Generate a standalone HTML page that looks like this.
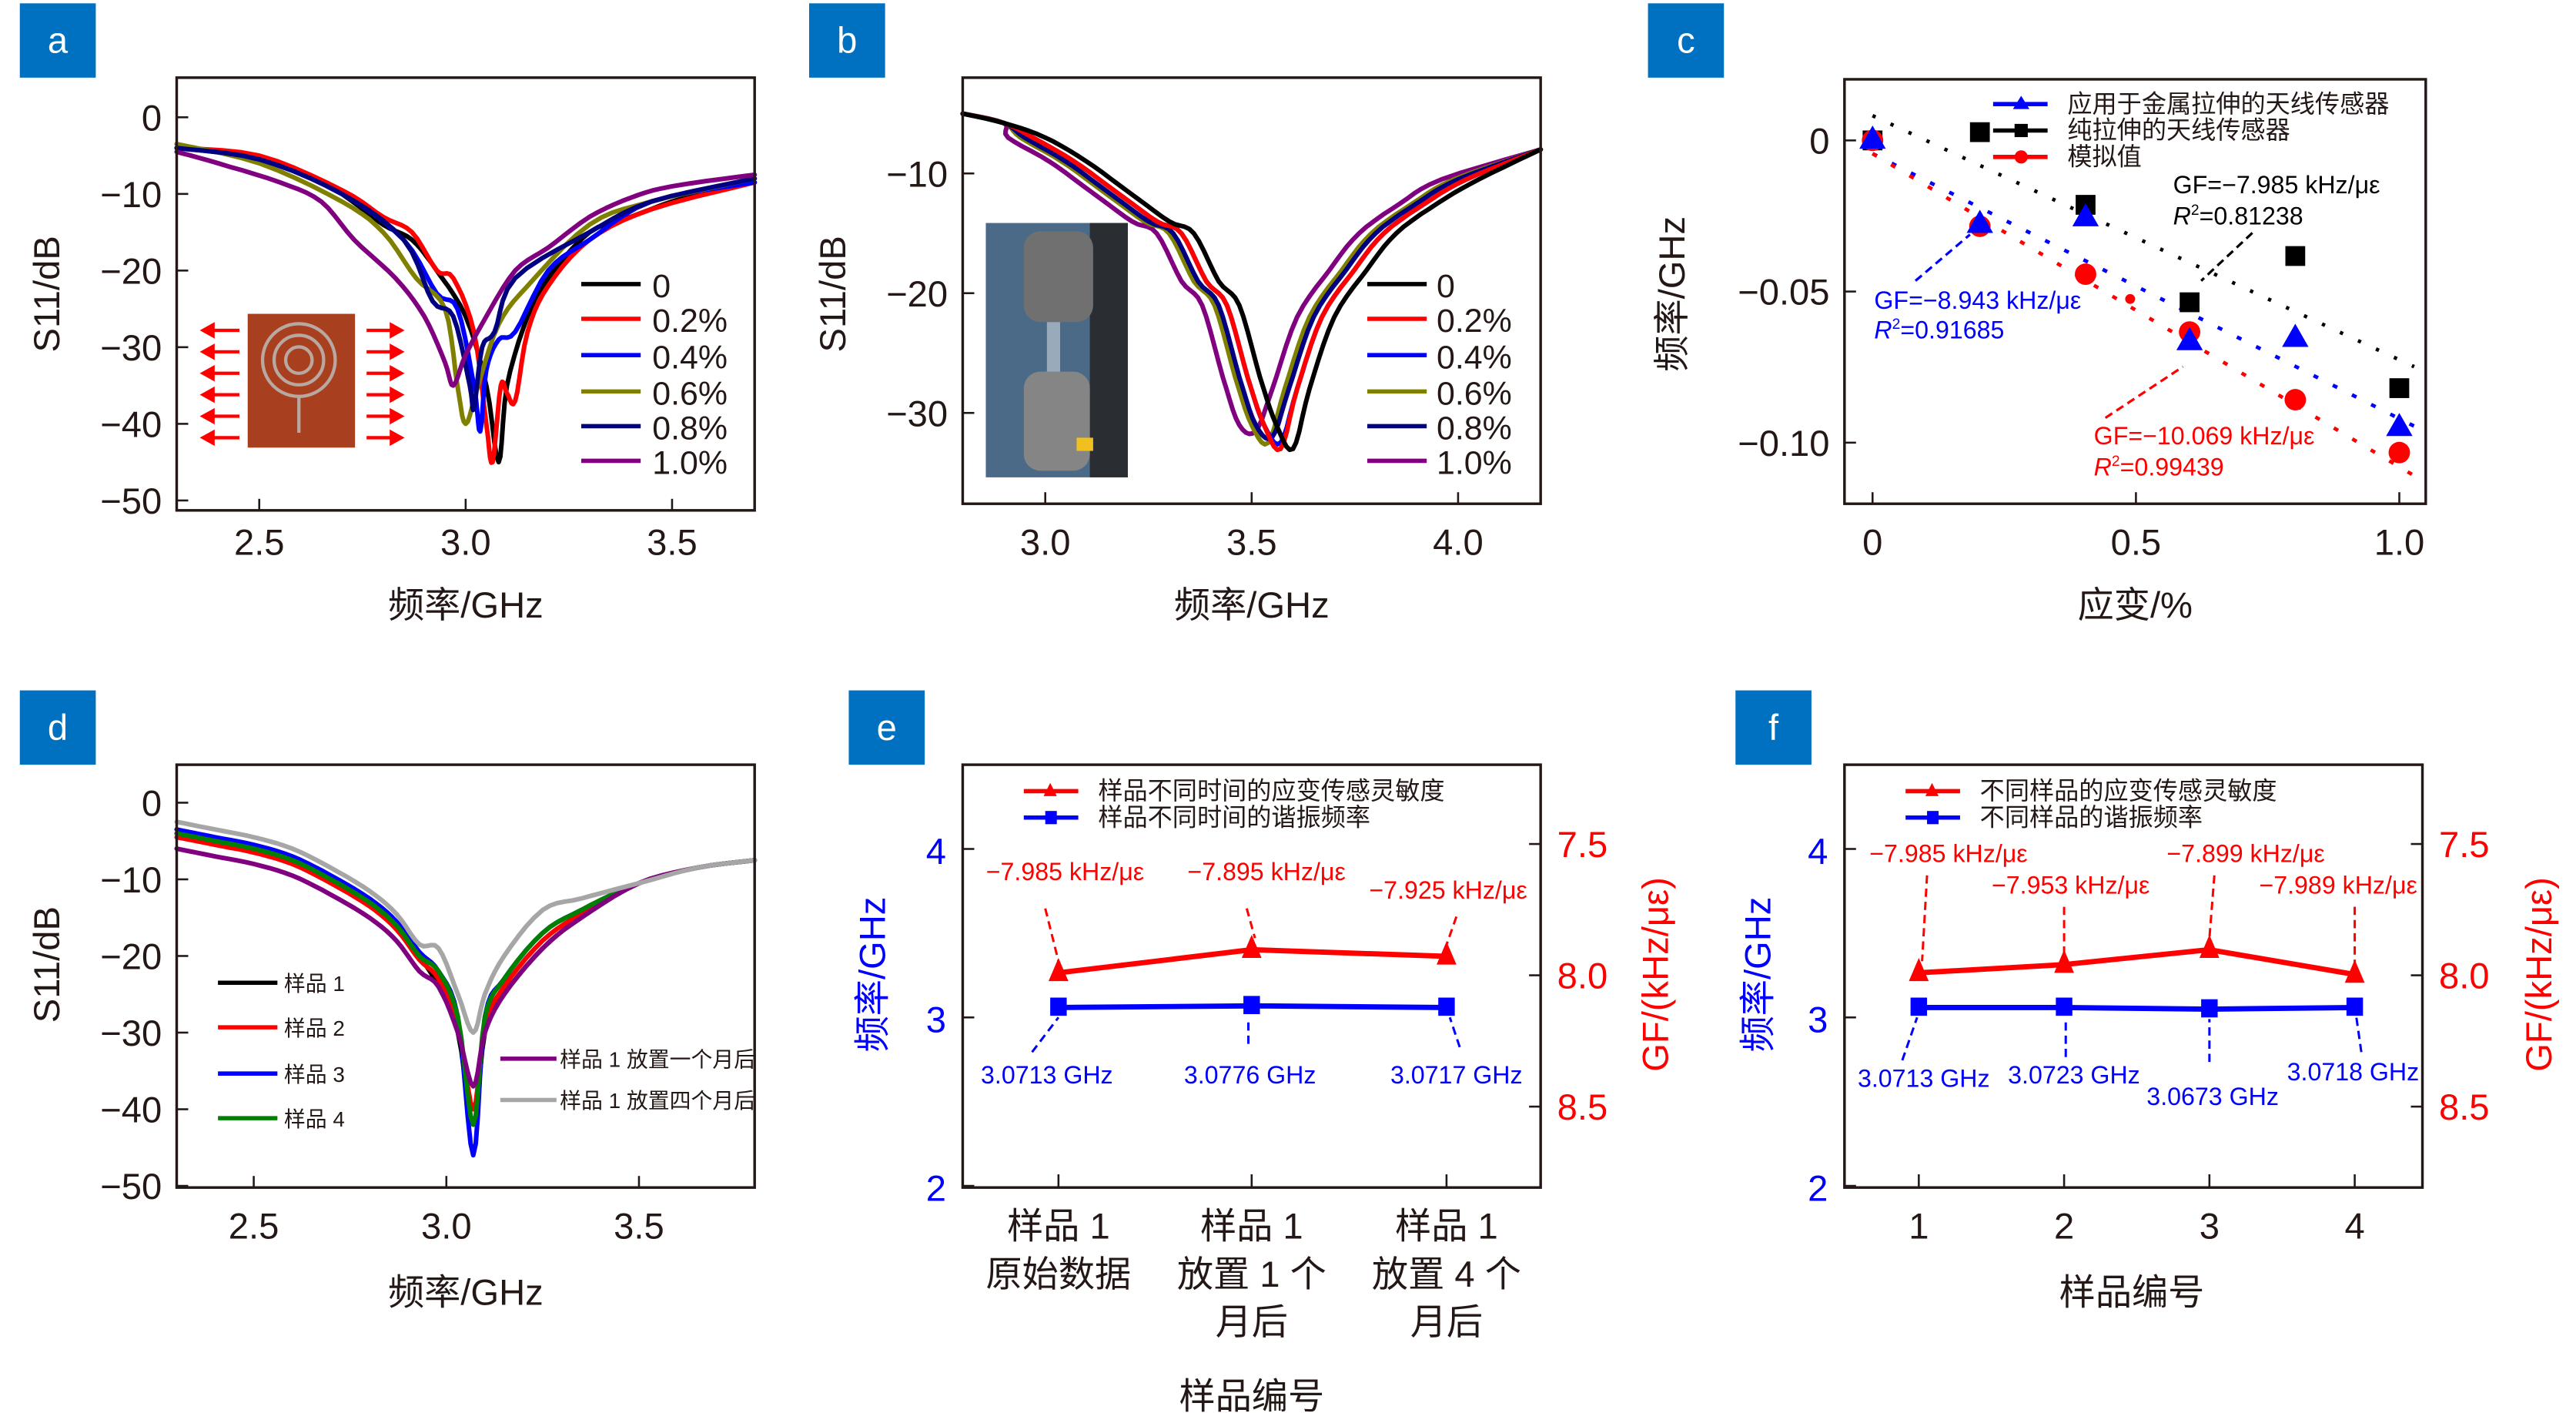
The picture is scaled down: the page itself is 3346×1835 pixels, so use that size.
<!DOCTYPE html>
<html><head><meta charset="utf-8">
<style>
html,body{margin:0;padding:0;background:#fff;}
svg{display:block;}
text{font-family:"Liberation Sans","Noto Sans CJK SC",sans-serif;}
</style></head>
<body>
<svg id="s" xmlns="http://www.w3.org/2000/svg" width="3346" height="1835" viewBox="0 0 1560 855.5">
<rect width="1560" height="856" fill="#fff"/>
</svg>
<script>
const S=document.getElementById('s');const NS='http://www.w3.org/2000/svg';
function el(t,a,txt){const e=document.createElementNS(NS,t);for(const k in a)e.setAttribute(k,a[k]);if(txt!==undefined)e.textContent=txt;S.appendChild(e);return e;}
function T(x,y,s,size,fill,anchor,extra){const a={x:x,y:y,'font-size':size,fill:fill||'#231815','text-anchor':anchor||'middle'};if(extra)Object.assign(a,extra);return el('text',a,s);}
function L(x1,y1,x2,y2,c,w,d){const a={x1,y1,x2,y2,stroke:c,'stroke-width':w||1.2};if(d)a['stroke-dasharray']=d;return el('line',a);}
function box(x,y,w,h){el('rect',{x,y,width:w,height:h,fill:'none',stroke:'#231815','stroke-width':1.6});}
function lab(x,y,s){el('rect',{x,y,width:46,height:45,fill:'#0070c0'});T(x+23,y+30,s,22,'#fff');}
function poly(pts,c,w,dash){const a={points:pts.map(p=>p[0].toFixed(1)+','+p[1].toFixed(1)).join(' '),fill:'none',stroke:c,'stroke-width':w||2.8,'stroke-linejoin':'round','stroke-linecap':'round'};if(dash)a['stroke-dasharray']=dash;return el('polyline',a);}
function smooth(d){
 const out=[];for(let i=0;i<d.length-1;i++){const p0=d[Math.max(i-1,0)],p1=d[i],p2=d[i+1],p3=d[Math.min(i+2,d.length-1)];for(let t=0;t<1;t+=0.2){const t2=t*t,t3=t2*t;out.push([0.5*((2*p1[0])+(-p0[0]+p2[0])*t+(2*p0[0]-5*p1[0]+4*p2[0]-p3[0])*t2+(-p0[0]+3*p1[0]-3*p2[0]+p3[0])*t3),0.5*((2*p1[1])+(-p0[1]+p2[1])*t+(2*p0[1]-5*p1[1]+4*p2[1]-p3[1])*t2+(-p0[1]+3*p1[1]-3*p2[1]+p3[1])*t3)]);}}out.push(d[d.length-1]);return out;}
const cols=['#000','#ff0000','#0000ff','#808000','#000080','#800080'];
const labs=['0','0.2%','0.4%','0.6%','0.8%','1.0%'];

// ---------- Panel a ----------
lab(12,2,'a');
(function(){const X=f=>107+(f-2.3)*250,Y=d=>71-d*4.64;
const data=[
[[2.3,-4],[2.4,-4.5],[2.5,-5.5],[2.6,-7],[2.7,-10],[2.8,-14],[2.87,-16],[2.93,-20],[3.0,-26],[3.05,-35],[3.08,-45],[3.1,-35],[3.15,-26],[3.2,-21],[3.3,-15],[3.4,-13],[3.5,-11],[3.6,-9.5],[3.7,-8.5]],
[[2.3,-4],[2.5,-5],[2.7,-9.5],[2.8,-13],[2.87,-15],[2.93,-20],[2.97,-21],[3.02,-28],[3.05,-40],[3.065,-45],[3.085,-35],[3.1,-36],[3.12,-37],[3.15,-28],[3.2,-22],[3.3,-16],[3.45,-12],[3.7,-8.5]],
[[2.3,-4],[2.5,-5.5],[2.7,-10],[2.85,-16],[2.93,-23],[2.98,-25],[3.02,-35],[3.035,-41],[3.05,-33],[3.08,-29],[3.12,-28],[3.2,-20],[3.3,-16],[3.45,-11],[3.7,-8.5]],
[[2.3,-3.5],[2.5,-6],[2.7,-11],[2.8,-15],[2.88,-21],[2.95,-25],[2.98,-35],[3.0,-40],[3.03,-35],[3.08,-27],[3.15,-22],[3.3,-14],[3.45,-11],[3.7,-8]],
[[2.3,-4],[2.5,-5.5],[2.7,-10],[2.85,-16],[2.92,-24],[2.97,-26],[3.01,-35],[3.02,-38],[3.04,-30],[3.07,-28],[3.12,-21],[3.3,-15],[3.45,-11],[3.7,-8]],
[[2.3,-4.5],[2.4,-6],[2.55,-8.5],[2.65,-11],[2.73,-16],[2.83,-21],[2.9,-26],[2.95,-32],[2.97,-35],[3.0,-31],[3.05,-26],[3.12,-20],[3.2,-17],[3.3,-13],[3.4,-10.5],[3.5,-9],[3.7,-7.5]]];
data.forEach((d,i)=>poly(smooth(d.map(p=>[X(p[0]),Y(p[1])])),cols[i]));
box(107,47,350,262);
[0,-10,-20,-30,-40,-50].forEach(v=>{L(107,Y(v),114,Y(v),'#231815');T(98,Y(v)+8,v==0?'0':'−'+(-v),22,null,'end');});
[2.5,3.0,3.5].forEach(v=>{L(X(v),309,X(v),302,'#231815');T(X(v),336,v.toFixed(1),22);});
T(282,374,'频率/GHz',22);
el('text',{transform:'translate(36,178) rotate(-90)','font-size':22,fill:'#231815','text-anchor':'middle'},'S11/dB');
const ly=[172,193,215,237,258,279];
ly.forEach((y,i)=>{L(352,y,388,y,cols[i],2.6);T(395,y+8,labs[i],20,null,'start');});
el('rect',{x:150,y:190,width:65,height:81,fill:'#a8401f'});
[0,1,2].forEach(k=>el('circle',{cx:181,cy:218,r:8+k*7,fill:'none',stroke:'#b8a8a0','stroke-width':2}));
L(181,240,181,262,'#b8a8a0',2);
for(let k=0;k<6;k++){const y=200+k*13;
 L(125,y,145,y,'#f00',2);el('polygon',{points:`121,${y} 130,${y-5} 130,${y+5}`,fill:'#f00'});
 L(222,y,240,y,'#f00',2);el('polygon',{points:`245,${y} 236,${y-5} 236,${y+5}`,fill:'#f00'});}
})();

// ---------- Panel b ----------
lab(490,2,'b');
(function(){const X=f=>583+(f-2.8)*250,Y=d=>105+(-10-d)*7.25;
const base=[[2.8,-5],[2.9,-5.8],[3.0,-7],[3.1,-9],[3.2,-11.5],[3.3,-14],[3.36,-15],[3.42,-19],[3.47,-21],[3.52,-27],[3.56,-31],[3.6,-33],[3.64,-28],[3.7,-22],[3.78,-18],[3.85,-15],[3.95,-12.5],[4.05,-10.5],[4.2,-8]];
const sh=[0,-0.03,-0.03,-0.06,-0.05,-0.09];const dep=[-33,-33,-32.5,-32.5,-32,-31.5];
const order=[5,3,4,2,1,0];
order.forEach(i=>{const d=base.map(p=>{let f=p[0],v=p[1];if(f>2.9&&f<4.15)f+=sh[i];if(p[0]==3.6)v=dep[i];return [X(Math.min(Math.max(f,2.8),4.2)),Y(v)];});poly(smooth(d),cols[i]);});
box(583,47,350,258);
[-10,-20,-30].forEach(v=>{L(583,Y(v),590,Y(v),'#231815');T(574,Y(v)+8,'−'+(-v),22,null,'end');});
[3.0,3.5,4.0].forEach(v=>{L(X(v),305,X(v),298,'#231815');T(X(v),336,v.toFixed(1),22);});
T(758,374,'频率/GHz',22);
el('text',{transform:'translate(512,178) rotate(-90)','font-size':22,fill:'#231815','text-anchor':'middle'},'S11/dB');
const ly=[172,193,215,237,258,279];
ly.forEach((y,i)=>{L(828,y,864,y,cols[i],2.6);T(870,y+8,labs[i],20,null,'start');});
el('rect',{x:597,y:135,width:86,height:154,fill:'#4a6a88'});
el('rect',{x:660,y:135,width:23,height:154,fill:'#2a2e33'});
el('rect',{x:620,y:140,width:42,height:55,rx:10,fill:'#707070'});
el('rect',{x:620,y:225,width:40,height:60,rx:10,fill:'#858585'});
el('rect',{x:634,y:195,width:8,height:30,fill:'#9ab'});
el('rect',{x:652,y:265,width:10,height:8,fill:'#f0c020'});
})();

// ---------- Panel c ----------
lab(998,2,'c');
(function(){
box(1117,48,352,257);
const X=v=>1134+v*319,Y=v=>85-v*1830;
[0,-0.05,-0.10].forEach((v,k)=>{const y=Y(v);L(1117,y,1124,y,'#231815');T(1108,y+8,['0','−0.05','−0.10'][k],22,null,'end');});
[[0,'0'],[0.5,'0.5'],[1,'1.0']].forEach(a=>{L(X(a[0]),305,X(a[0]),298,'#231815');T(X(a[0]),336,a[1],22);});
T(1293,374,'应变/%',22);
el('text',{transform:'translate(1020,178) rotate(-90)','font-size':22,fill:'#231815','text-anchor':'middle'},'频率/GHz');
L(1134,70,1462,222,'#000',2.2,'2 10');
L(1134,93,1462,258,'#00f',2.2,'3 10');
L(1134,93,1462,288,'#f00',2.2,'3 10');
const bs=[[1134,85],[1199,80],[1263,124],[1326,183],[1390,155],[1453,235]];
const bt=[[1134,85],[1199,136],[1263,132],[1326,207],[1390,205],[1453,259]];
const rc=[[1134,85],[1199,137],[1263,166],[1326,201],[1390,242],[1453,274]];
bs.forEach(p=>el('rect',{x:p[0]-6,y:p[1]-6,width:12,height:12,fill:'#000'}));
rc.forEach(p=>el('circle',{cx:p[0],cy:p[1],r:6.5,fill:'#f00'}));
bt.forEach(p=>el('polygon',{points:`${p[0]},${p[1]-9} ${p[0]-8},${p[1]+5} ${p[0]+8},${p[1]+5}`,fill:'#00f'}));
el('circle',{cx:1290,cy:181,r:3,fill:'#f00'});
[['#00f','tri'],['#000','sq'],['#f00','ci']].forEach((a,k)=>{const y=63+k*16;L(1207,y,1240,y,a[0],2.6);
 if(a[1]=='tri')el('polygon',{points:`1224,${y-5} 1219,${y+3} 1229,${y+3}`,fill:a[0]});
 if(a[1]=='sq')el('rect',{x:1220,y:y-4,width:8,height:8,fill:a[0]});
 if(a[1]=='ci')el('circle',{cx:1224,cy:y,r:4,fill:a[0]});});
T(1252,68,'应用于金属拉伸的天线传感器',15,null,'start');
T(1252,84,'纯拉伸的天线传感器',15,null,'start');
T(1252,100,'模拟值',15,null,'start');
T(1316,117,'GF=−7.985 kHz/με',15,'#000','start');
el('text',{x:1316,y:136,'font-size':15,fill:'#000'},'').innerHTML='<tspan font-style="italic">R</tspan><tspan font-size="9" dy="-6">2</tspan><tspan dy="6">=0.81238</tspan>';
L(1364,141,1333,170,'#000',1.5,'5 3');
T(1135,187,'GF=−8.943 kHz/με',15,'#00f','start');
el('text',{x:1135,y:205,'font-size':15,fill:'#00f'},'').innerHTML='<tspan font-style="italic">R</tspan><tspan font-size="9" dy="-6">2</tspan><tspan dy="6">=0.91685</tspan>';
L(1160,170,1193,142,'#00f',1.5,'5 3');
T(1268,269,'GF=−10.069 kHz/με',15,'#f00','start');
el('text',{x:1268,y:288,'font-size':15,fill:'#f00'},'').innerHTML='<tspan font-style="italic">R</tspan><tspan font-size="9" dy="-6">2</tspan><tspan dy="6">=0.99439</tspan>';
L(1275,253,1322,222,'#f00',1.5,'5 3');
})();

// ---------- Panel d ----------
lab(12,418,'d');
(function(){const X=f=>107+(f-2.3)*233.3,Y=d=>486-d*4.64;
function mk(D,e,g){return [[2.3,-4+e],[2.4,-5+e],[2.5,-6+e],[2.6,-7.5+e],[2.7,-10+e],[2.8,-13+e],[2.87,-16+e],[2.93,-20+e],[2.98,-24+g],[3.03,-30+g],[3.07,D],[3.1,-30+g],[3.15,-25+g],[3.25,-19+g],[3.35,-15+g/2],[3.5,-10.5],[3.65,-8.5],[3.8,-7.5]];}
const ser=[['#000',mk(-42,0,0)],['#f00',mk(-40,-0.5,1)],['#00f',mk(-46,0.5,2)],['#008000',mk(-42,0,2)],['#800080',mk(-37,-2,0)],['#a6a6a6',mk(-30,1.5,5)]];
ser.forEach(s=>poly(smooth(s[1].map(p=>[X(p[0]),Y(p[1])])),s[0]));
box(107,463,350,256);
[0,-10,-20,-30,-40,-50].forEach(v=>{L(107,Y(v),114,Y(v),'#231815');T(98,Y(v)+8,v==0?'0':'−'+(-v),22,null,'end');});
[2.5,3.0,3.5].forEach(v=>{L(X(v),719,X(v),712,'#231815');T(X(v),750,v.toFixed(1),22);});
T(282,790,'频率/GHz',22);
el('text',{transform:'translate(36,584) rotate(-90)','font-size':22,fill:'#231815','text-anchor':'middle'},'S11/dB');
[['#000','样品 1',595],['#f00','样品 2',622],['#00f','样品 3',650],['#008000','样品 4',677]].forEach(a=>{L(132,a[2],168,a[2],a[0],2.6);T(172,a[2]+5,a[1],13,null,'start');});
L(303,641,337,641,'#800080',2.6);T(339,646,'样品 1 放置一个月后',13,null,'start');
L(303,666,337,666,'#a6a6a6',2.6);T(339,671,'样品 1 放置四个月后',13,null,'start');
})();

// ---------- Panel e / f ----------
function dual(bx,cats,red,blue,legend,ann,xlabels,lx,rtx){
 box(bx,463,350,256);
 const YL=v=>718-(v-2)*102,YR=v=>511+(v-7.5)*159;
 [2,3,4].forEach(v=>{L(bx,YL(v),bx+7,YL(v),'#231815');T(bx-10,YL(v)+9,String(v),22,'#00f','end');});
 [7.5,8.0,8.5].forEach(v=>{L(bx+350,YR(v),bx+343,YR(v),'#231815');T(bx+360,YR(v)+8,v.toFixed(1),22,'#f00','start');});
 cats.forEach(c=>L(c,719,c,711,'#231815'));
 poly(red.map((y,i)=>[cats[i],y]),'#f00',3.2);
 poly(blue.map((y,i)=>[cats[i],y]),'#00f',3.2);
 red.forEach((y,i)=>el('polygon',{points:`${cats[i]},${y-9} ${cats[i]-6},${y+5} ${cats[i]+6},${y+5}`,fill:'#f00'}));
 blue.forEach((y,i)=>el('rect',{x:cats[i]-5,y:y-6,width:10,height:11,fill:'#00f'}));
 L(bx+37,479,bx+70,479,'#f00',2.6);el('polygon',{points:`${bx+53},474 ${bx+49},482 ${bx+57},482`,fill:'#f00'});
 L(bx+37,495,bx+70,495,'#00f',2.6);el('rect',{x:bx+50,y:491,width:7,height:8,fill:'#00f'});
 T(bx+82,484,legend[0],15,null,'start');T(bx+82,500,legend[1],15,null,'start');
 ann.forEach(a=>{T(a[0],a[1],a[2],15,a[3],'middle');L(a[4],a[5],a[6],a[7],a[3],1.4,'5 3');});
 xlabels.forEach(a=>T(a[0],a[1],a[2],22));
 el('text',{transform:`translate(${lx},590) rotate(-90)`,'font-size':22,fill:'#00f','text-anchor':'middle'},'频率/GHz');
 el('text',{transform:`translate(${rtx},590) rotate(-90)`,'font-size':22,fill:'#f00','text-anchor':'middle'},'GF/(kHz/με)');
}
lab(514,418,'e');
dual(583,[641,758,876],[589,575,579],[610,609,610],['样品不同时间的应变传感灵敏度','样品不同时间的谐振频率'],
[[645,533,'−7.985 kHz/με','#f00',633,550,641,582],[767,533,'−7.895 kHz/με','#f00',755,550,760,568],[877,544,'−7.925 kHz/με','#f00',882,555,876,572],
 [634,656,'3.0713 GHz','#00f',625,637,641,616],[757,656,'3.0776 GHz','#00f',756,632,756,616],[882,656,'3.0717 GHz','#00f',884,634,878,616]],
[[641,750,'样品 1'],[641,779,'原始数据'],[758,750,'样品 1'],[758,779,'放置 1 个'],[758,808,'月后'],[876,750,'样品 1'],[876,779,'放置 4 个'],[876,808,'月后'],[758,853,'样品编号']],536,1010);
lab(1051,418,'f');
dual(1117,[1162,1250,1338,1426],[589,584,575,590],[610,610,611,610],['不同样品的应变传感灵敏度','不同样品的谐振频率'],
[[1180,522,'−7.985 kHz/με','#f00',1167,530,1164,582],[1254,541,'−7.953 kHz/με','#f00',1250,549,1250,577],[1360,522,'−7.899 kHz/με','#f00',1341,530,1338,568],[1416,541,'−7.989 kHz/με','#f00',1426,549,1426,583],
 [1165,658,'3.0713 GHz','#00f',1152,642,1161,616],[1256,656,'3.0723 GHz','#00f',1251,640,1251,616],[1340,669,'3.0673 GHz','#00f',1338,643,1338,617],[1425,654,'3.0718 GHz','#00f',1430,637,1427,616]],
[[1162,750,'1'],[1250,750,'2'],[1338,750,'3'],[1426,750,'4'],[1291,790,'样品编号']],1072,1545);
</script>
</body></html>
